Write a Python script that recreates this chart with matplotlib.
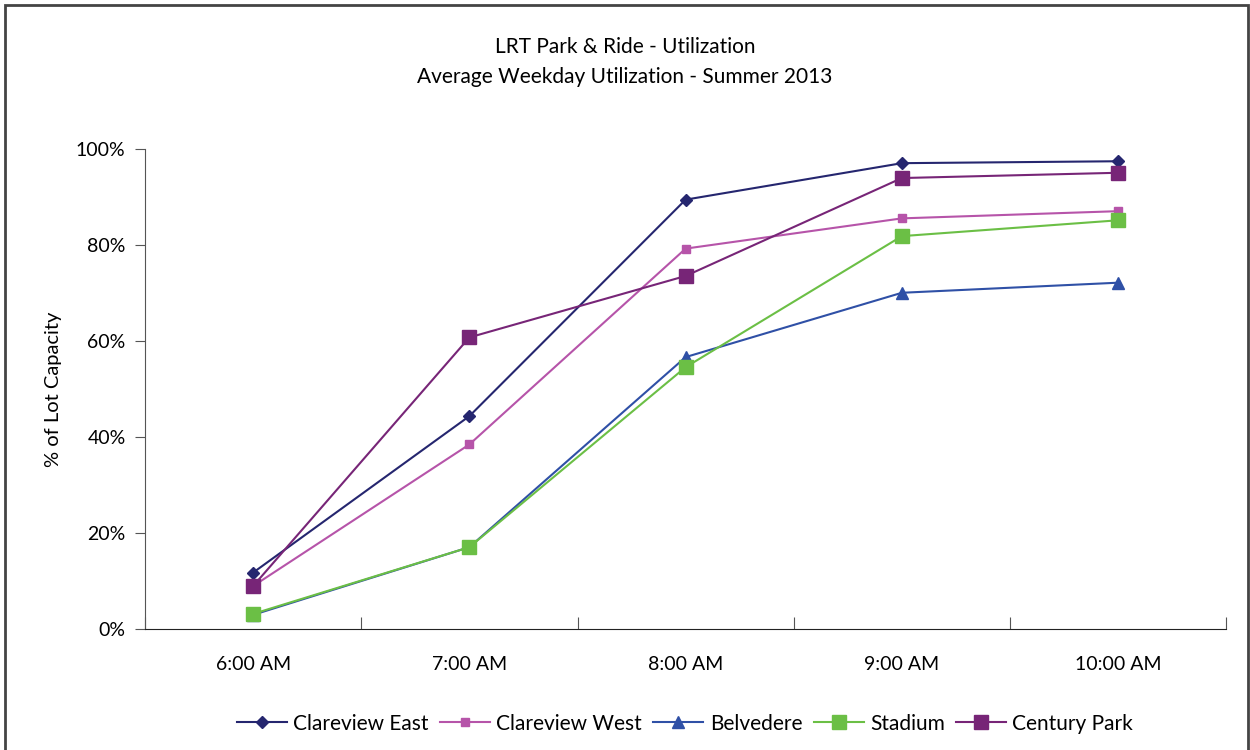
import matplotlib.pyplot as plt
import matplotlib.patches as mpatches
import numpy as np

plt.rcParams['font.family'] = ['Lato', 'DejaVu Sans']

# Data
times = ['6:00 AM', '7:00 AM', '8:00 AM', '9:00 AM', '10:00 AM']
clareview_east = [11.8, 44.4, 89.5, 97.1, 97.5]
clareview_west = [9.0, 38.5, 79.3, 85.6, 87.1]
belvedere = [3.0, 17.1, 56.7, 70.1, 72.2]
stadium = [3.2, 17.1, 54.6, 81.9, 85.2]
century_park = [9.0, 60.8, 73.6, 94.0, 95.1]

series = [
    ('Clareview East', clareview_east, '#25266f', 'D', 6),
    ('Clareview West', clareview_west, '#b654a9', 's', 6),
    ('Belvedere', belvedere, '#2f50a6', '^', 8),
    ('Stadium', stadium, '#6bbf45', 's', 10),
    ('Century Park', century_park, '#772577', 's', 10),
]

fig = plt.figure(figsize=(12.5, 7.5), dpi=100)
ax = fig.add_axes([0.116, 0.161, 0.865, 0.640])

x = np.arange(len(times))
for name, vals, color, marker, ms in series:
    ax.plot(x, vals, color=color, marker=marker, markersize=ms,
            linewidth=1.5, label=name)

ax.set_xlim(-0.5, len(times) - 0.5)
ax.set_ylim(0, 100)
ax.set_yticks(np.arange(0, 101, 20))
ax.set_yticklabels([f'{v}%' for v in range(0, 101, 20)], fontsize=14)

# category labels centred, tick marks between categories
ax.set_xticks(np.arange(-0.5, len(times), 1.0))
ax.set_xticklabels([])
ax.set_xticks(x, minor=True)
ax.set_xticklabels(times, minor=True, fontsize=14)
ax.tick_params(axis='x', which='minor', length=0, pad=19)
ax.tick_params(axis='x', which='major', length=9, direction='in', color='#555555')
ax.tick_params(axis='y', length=7, direction='out', color='#555555', pad=7)

for side in ['top', 'right']:
    ax.spines[side].set_visible(False)
ax.spines['left'].set_color('#555555')
ax.spines['bottom'].set_color('#222222')

ax.set_ylabel('% of Lot Capacity', fontsize=14.5, labelpad=10)

fig.text(0.5, 0.937, 'LRT Park & Ride - Utilization', ha='center', va='center', fontsize=15)
fig.text(0.5, 0.897, 'Average Weekday Utilization - Summer 2013', ha='center', va='center', fontsize=15)

fig.legend(loc='center', bbox_to_anchor=(0.548, 0.035), ncol=5, frameon=False,
           fontsize=15, handlelength=2.4, columnspacing=0.55, handletextpad=0.3)

# outer chart border
fig.patches.append(mpatches.Rectangle((0.004, -0.01), 0.994, 1.004, transform=fig.transFigure,
                                      fill=False, edgecolor='#444444', linewidth=2))

fig.savefig('out.png', dpi=100)
